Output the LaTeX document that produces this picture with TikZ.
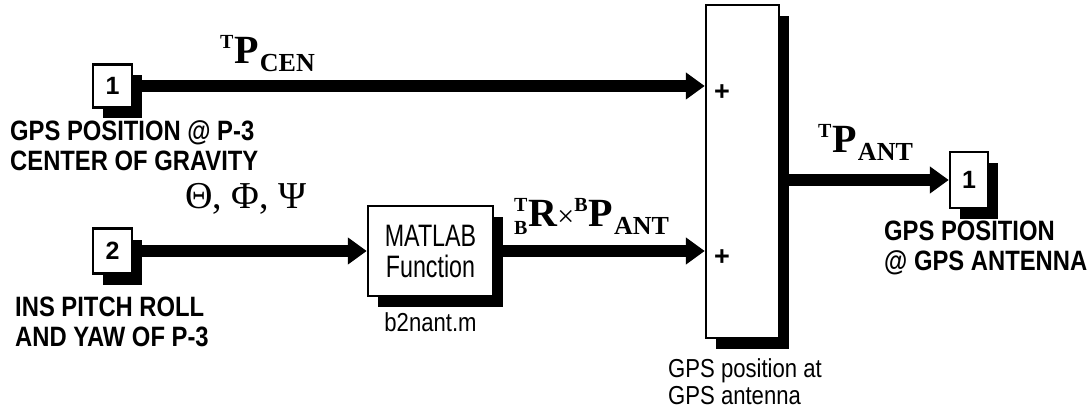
\documentclass[tikz,border=0pt]{standalone}
\usepackage{fontspec}
\setmainfont{Liberation Sans}
\newfontfamily\lblfont[FakeStretch=0.85]{Liberation Sans}
\newfontfamily\blkfont[FakeStretch=0.75]{Liberation Sans}
\newfontfamily\serfont{Liberation Serif}
\usetikzlibrary{arrows.meta,shadows}
\newcommand{\fsz}[1]{\fontsize{#1}{#1}\selectfont}
\newcommand{\vlab}[3]{{\serfont\bfseries\raisebox{15pt}{\fsz{20}#1}\kern1pt{\fsz{40}#2}\kern1pt\raisebox{-8pt}{\fsz{26}#3}}}
\begin{document}
\begin{tikzpicture}[x=1pt,y=-1pt,
  blk/.style={draw=black, line width=2.5pt, fill=white, inner sep=0pt,
    drop shadow={shadow xshift=10pt, shadow yshift=-11pt, fill=black, opacity=1}},
  sig/.style={line width=12pt, -{Triangle[length=19pt 0 0, width=26pt 0 0]}},
  bigl/.style={font=\lblfont\bfseries\fontsize{28}{30}\selectfont, align=left, inner sep=0pt, anchor=north west},
  smalll/.style={font=\lblfont\fontsize{26}{27}\selectfont, align=left, inner sep=0pt, anchor=north west},
  portnum/.style={font=\bfseries\fontsize{25}{25}\selectfont},
  plus/.style={font=\bfseries\fontsize{27}{27}\selectfont, inner sep=0pt},
  mlab/.style={inner sep=0pt, anchor=base west}]
\useasboundingbox (0,0) rectangle (1092,414);
% blocks
\node[blk, minimum width=39pt, minimum height=43pt, portnum] (in1) at (112.5,86) {1};
\node[blk, minimum width=39pt, minimum height=45pt, portnum] (in2) at (112.5,251) {2};
\node[blk, minimum width=125pt, minimum height=90pt, align=center,
      font=\blkfont\fontsize{31}{31}\selectfont] (fcn) at (430.5,251) {MATLAB\\Function};
\node[blk, minimum width=73pt, minimum height=333pt] (sum) at (742.5,171.5) {};
\node[blk, minimum width=38pt, minimum height=56pt, portnum] (out1) at (969,180) {1};
% signs
\node[plus] (p1) at (722,93) {+};
\node[plus] (p2) at (722,258) {+};
% connectors
\draw[sig] (in1.east) -- (in1.east -| sum.west);
\draw[sig] (in2.east) -- (fcn.west);
\draw[sig] (fcn.east) -- (fcn.east -| sum.west);
\draw[sig] (sum.east |- out1.west) -- (out1.west);
% block labels
\node[bigl] (l1) at (10,120) {GPS POSITION @ P-3\\CENTER OF GRAVITY};
\node[bigl] (l2) at (15,297) {INS PITCH ROLL\\AND YAW OF P-3};
\node[bigl] (l3) at (884,221) {GPS POSITION\\@ GPS ANTENNA};
\node[smalll] (l4) at (668,358) {GPS position at\\GPS antenna};
\node[smalll, anchor=north] (l5) at (430.5,312) {b2nant.m};
% signal labels
\node[mlab] (s1) at (220,64) {\vlab{T}{P}{CEN}};
\node[mlab] (s2) at (185,209) {\serfont\fsz{38}Θ, Φ, Ψ};
\node[mlab] (s3) at (514,226) {\serfont\bfseries
  \rlap{\raisebox{15pt}{\fsz{20}T}}\raisebox{-8pt}{\fsz{20}B}\kern1pt{\fsz{40}R}{\fsz{30}\mdseries×}\raisebox{15pt}{\fsz{20}B}\kern1pt{\fsz{40}P}\kern1pt\raisebox{-8pt}{\fsz{26}ANT}};
\node[mlab] (s4) at (818,153) {\vlab{T}{P}{ANT}};
\end{tikzpicture}
\end{document}
